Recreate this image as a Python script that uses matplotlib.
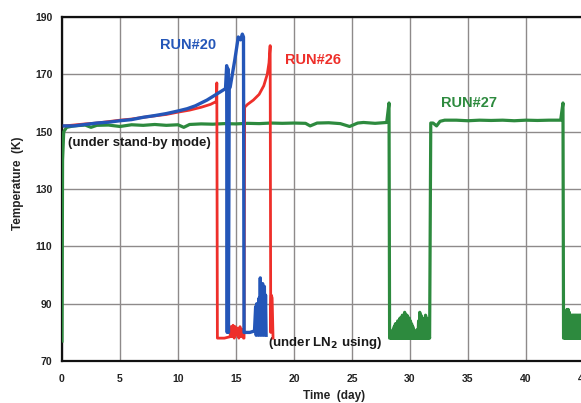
import numpy as np
import matplotlib
matplotlib.use('Agg')
import matplotlib.pyplot as plt

plt.rcParams['font.family'] = ['Liberation Sans', 'DejaVu Sans']

# (day, K) readings for each run
run20 = [(0.2, 152), (1, 152), (2, 152.5), (3, 153), (4, 153.3), (5, 153.8), (6, 154.2), (7, 155),
         (8, 155.6), (9, 156.3), (10, 157.2), (10.8, 158), (11.5, 159), (12.5, 161), (13.3, 163),
         (13.9, 164.5), (14.1, 165), (14.2, 173), (14.25, 80), (14.3, 172), (14.35, 80), (14.42, 165),
         (14.5, 165.5), (14.9, 175), (15.2, 183), (15.4, 182), (15.55, 184), (15.65, 183), (15.7, 80),
         (16.2, 80), (16.6, 80.5), (16.7, 89), (16.75, 79), (16.8, 90), (16.85, 80), (16.9, 88),
         (16.95, 79), (17.0, 92), (17.05, 80), (17.1, 99), (17.15, 79), (17.2, 94), (17.25, 80),
         (17.3, 97), (17.35, 79), (17.4, 90), (17.45, 96), (17.5, 80), (17.55, 93), (17.6, 79)]

run26 = [(0.2, 152), (1, 152.3), (2, 152.7), (3, 153), (4, 153.5), (5, 154), (6, 154.4), (7, 155),
         (8, 155.5), (9, 156), (10, 156.8), (11, 157.5), (12, 158.5), (12.8, 159.5), (13.3, 160.5),
         (13.35, 167), (13.4, 78), (14.0, 78), (14.5, 78.5), (14.55, 82), (14.65, 78.5), (14.75, 82.5),
         (14.85, 78), (14.95, 82), (15.05, 79), (15.15, 81.5), (15.25, 78), (15.35, 82), (15.45, 78.5),
         (15.55, 81), (15.65, 78), (15.7, 78), (15.75, 158.5), (16.0, 159.5), (16.5, 161), (17.0, 163),
         (17.4, 166), (17.7, 170), (17.85, 174), (17.95, 180), (18.0, 80), (18.05, 93), (18.12, 92),
         (18.2, 78)]

run27 = [(0.0, 77), (0.05, 140), (0.15, 150), (0.4, 151.5), (1, 152), (2, 152.3), (2.5, 151.5),
         (3, 152.2), (4, 152.3), (5, 151.8), (6, 152.4), (7, 152.2), (8, 152.5), (9, 152.2),
         (10, 152.4), (10.5, 151.5), (11, 152.5), (12, 152.7), (13, 152.6), (14, 152.8), (15, 152.7),
         (16, 152.9), (17, 152.8), (18, 153), (19, 152.9), (20, 153), (21, 152.9), (21.4, 152),
         (22, 153), (23, 153.1), (24, 152.8), (24.8, 151.8), (25.5, 153), (26, 153.2), (27, 152.9),
         (28.0, 153.2), (28.2, 160), (28.25, 78),
         (28.30, 78), (28.35, 79), (28.40, 78), (28.45, 80), (28.50, 78), (28.55, 81), (28.60, 78),
         (28.65, 82), (28.70, 78), (28.75, 83), (28.80, 78), (28.85, 83), (28.90, 78), (28.95, 84),
         (29.00, 78), (29.05, 84), (29.10, 78), (29.15, 85), (29.20, 78), (29.25, 85), (29.30, 78),
         (29.35, 86), (29.40, 78), (29.45, 86), (29.50, 78), (29.55, 87), (29.60, 78), (29.65, 86),
         (29.70, 78), (29.75, 86), (29.80, 78), (29.85, 85), (29.90, 78), (29.95, 85), (30.00, 78),
         (30.05, 84), (30.10, 78), (30.15, 83), (30.20, 78), (30.25, 82), (30.30, 78), (30.35, 81),
         (30.40, 78), (30.45, 80), (30.50, 78), (30.55, 80), (30.60, 78), (30.65, 81), (30.70, 78),
         (30.75, 84), (30.80, 78), (30.85, 87), (30.90, 78), (30.95, 86), (31.00, 78), (31.05, 84),
         (31.10, 78), (31.15, 80), (31.20, 78), (31.25, 85), (31.30, 78), (31.35, 86), (31.40, 78),
         (31.45, 85), (31.50, 78), (31.55, 84), (31.60, 78), (31.65, 79), (31.7, 78),
         (31.8, 153), (32.0, 153), (32.3, 152), (32.6, 153.6), (33, 154),
         (34, 154), (35, 153.8), (36, 154), (37, 153.9), (38, 154), (39, 153.8), (40, 154),
         (41, 153.9), (42, 154), (43.0, 154), (43.2, 160), (43.25, 78),
         (43.30, 78), (43.35, 79), (43.40, 78), (43.45, 86), (43.50, 78), (43.55, 88), (43.60, 78),
         (43.65, 88), (43.70, 78), (43.75, 87), (43.80, 78), (43.85, 86), (43.90, 78), (43.95, 86),
         (44.00, 78), (44.05, 86), (44.10, 78), (44.15, 86), (44.20, 78), (44.25, 86), (44.30, 78),
         (44.35, 86), (44.40, 78), (44.45, 86), (44.50, 78), (44.55, 86), (44.60, 78), (44.65, 86),
         (44.70, 78), (44.75, 86), (44.80, 78), (44.85, 86)]

run20_t, run20_T = np.array(run20).T
run26_t, run26_T = np.array(run26).T
run27_t, run27_T = np.array(run27).T

fig = plt.figure(figsize=(5.81, 4.03), dpi=100)
ax = fig.add_axes([0.1067, 0.104, 0.998, 0.854])

ax.plot(run27_t, run27_T, color='#2d8a3e', lw=2.3, zorder=3)
ax.plot(run26_t, run26_T, color='#ee2f2a', lw=2.0, zorder=4)
ax.plot(run20_t, run20_T, color='#2456b8', lw=2.4, zorder=5)

ax.set_xlim(0, 50)
ax.set_ylim(70, 190)
ax.set_xticks(np.arange(0, 55, 5))
ax.set_yticks(np.arange(70, 191, 20))
ax.grid(True, color='#8e8a8a', lw=1.0)
ax.set_axisbelow(True)
ax.tick_params(length=0, labelsize=7.5, labelcolor='#222222')
ax.tick_params(axis='y', pad=7)
ax.tick_params(axis='x', pad=9)
for lbl in ax.get_xticklabels() + ax.get_yticklabels():
    lbl.set_fontweight('bold')
for s in ['left', 'bottom', 'top']:
    ax.spines[s].set_linewidth(1.6)
    ax.spines[s].set_color('#111111')

ax.set_xlabel('Time  (day)', fontsize=8.5, fontweight='bold', color='#222222')
ax.set_ylabel('Temperature  (K)', fontsize=8.5, fontweight='bold', color='#222222')
ax.xaxis.set_label_coords(0.47, -0.085)
ax.yaxis.set_label_coords(-0.066, 0.517)

ax.text(8.45, 180.2, 'RUN#20', color='#2456b8', fontsize=10.5, fontweight='bold', va='center')
ax.text(19.2, 175, 'RUN#26', color='#ee2f2a', fontsize=10.5, fontweight='bold', va='center')
ax.text(32.7, 160, 'RUN#27', color='#2d8a3e', fontsize=10.5, fontweight='bold', va='center')
ax.text(0.5, 146, '(under stand-by mode)', color='#1a1a1a', fontsize=9.5, fontweight='bold', va='center')
ax.text(17.75, 76.3, '(under LN$_\\mathbf{2}$ using)', color='#1a1a1a', fontsize=9.5, fontweight='bold',
        va='center')

fig.savefig('out.png', dpi=100)
